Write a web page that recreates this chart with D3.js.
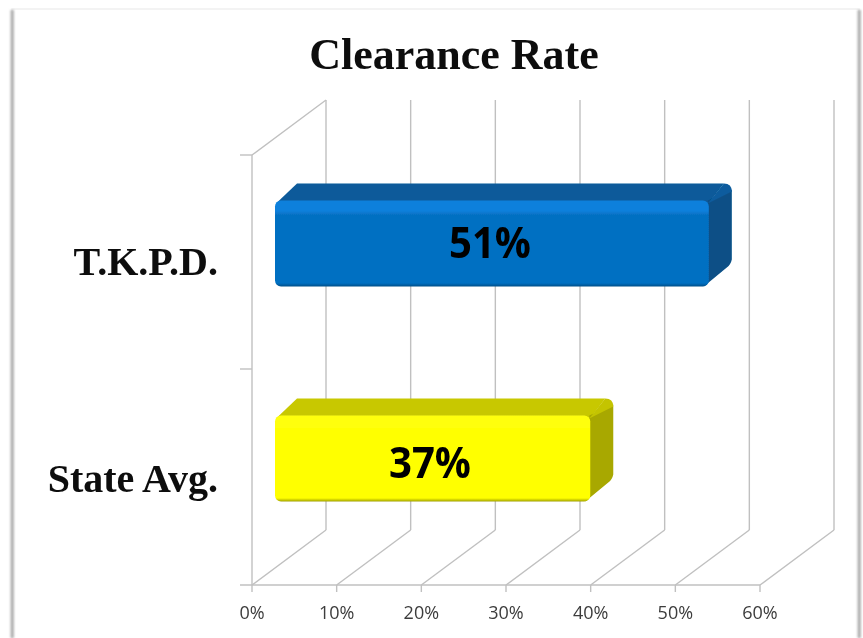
<!DOCTYPE html>
<html>
<head>
<meta charset="utf-8">
<script src="https://cdn.jsdelivr.net/npm/d3@7/dist/d3.min.js"></script>
<style>
html,body{margin:0;padding:0;background:#fff;}
svg{display:block;}
</style>
</head>
<body>
<svg id="chart" width="863" height="638"></svg>
<script>
const titleText = "Clearance Rate";
const categories = ["T.K.P.D.", "State Avg."];
const values = [51, 37];
const valueLabels = ["51%", "37%"];
const xTicks = [0, 10, 20, 30, 40, 50, 60];
const frontColors = ["#0670c2", "#ffff00"];
const lightColors = ["#0a80dc", "#ffff10"];
const darkEdgeColors = ["#054f88", "#a0a000"];
const topColors = ["#085a9a", "#c8c800"];
const sideColors = ["#084f86", "#a8a800"];
const cornerColors = ["#085c9e", "#c4c400"];

const svg = d3.select("#chart");
const defs = svg.append("defs");

const blur = defs.append("filter").attr("id", "soft").attr("x", "-5%").attr("y", "-5%").attr("width", "110%").attr("height", "110%");
blur.append("feGaussianBlur").attr("stdDeviation", 0.55);
const textBlur = defs.append("filter").attr("id", "softText").attr("x", "-5%").attr("y", "-5%").attr("width", "110%").attr("height", "110%");
textBlur.append("feGaussianBlur").attr("stdDeviation", 0.35);
const frameBlur = defs.append("filter").attr("id", "frameShadow").attr("x", "-200%").attr("y", "-5%").attr("width", "500%").attr("height", "110%");
frameBlur.append("feGaussianBlur").attr("stdDeviation", 1);

const floorY = 585, wallTop = 155;
const dx = 74, dy = -55;
const barDx = 24, barDy = -17;

const x = d3.scaleLinear().domain([0, 60]).range([252, 760]);
const y = d3.scaleBand().domain(categories).range([wallTop, floorY]);

// outer picture frame
const frame = svg.append("g");
frame.append("rect").attr("x", 12).attr("y", 9).attr("width", 847).attr("height", 640)
  .attr("fill", "none").attr("stroke", "#efefef").attr("stroke-width", 1.5);
frame.append("rect").attr("x", 10.5).attr("y", 10).attr("width", 3.5).attr("height", 628)
  .attr("fill", "#b4b4b4").attr("filter", "url(#frameShadow)");
frame.append("rect").attr("x", 857.5).attr("y", 10).attr("width", 3.5).attr("height", 628)
  .attr("fill", "#b4b4b4").attr("filter", "url(#frameShadow)");

// title
svg.append("text").attr("x", 454).attr("y", 69).attr("text-anchor", "middle")
  .attr("font-family", "'Liberation Serif', serif").attr("font-weight", "bold")
  .attr("font-size", 44).attr("fill", "#0c0c0c").attr("filter", "url(#softText)").text(titleText);

// 3D walls and floor
const grid = svg.append("g").attr("fill", "none").attr("stroke", "#c0c0c0").attr("stroke-width", 1.4);
grid.selectAll("line.back").data(xTicks).join("line").attr("class", "back")
  .attr("x1", d => x(d) + dx).attr("x2", d => x(d) + dx)
  .attr("y1", wallTop + dy).attr("y2", floorY + dy);
grid.selectAll("line.floor").data(xTicks).join("line").attr("class", "floor")
  .attr("x1", d => x(d)).attr("x2", d => x(d) + dx)
  .attr("y1", floorY).attr("y2", floorY + dy);
grid.append("line").attr("x1", x(0)).attr("x2", x(0)).attr("y1", wallTop).attr("y2", floorY);
grid.append("line").attr("x1", x(0)).attr("x2", x(0) + dx).attr("y1", wallTop).attr("y2", wallTop + dy);
grid.append("line").attr("x1", x(0) - 12).attr("x2", x(60)).attr("y1", floorY).attr("y2", floorY);
grid.selectAll("line.xt").data(xTicks).join("line").attr("class", "xt")
  .attr("x1", d => x(d)).attr("x2", d => x(d)).attr("y1", floorY).attr("y2", floorY + 7);
grid.selectAll("line.yt").data([wallTop, (wallTop + floorY) / 2 - 1]).join("line").attr("class", "yt")
  .attr("x1", x(0) - 12).attr("x2", x(0)).attr("y1", d => d).attr("y2", d => d);

// x tick labels
svg.append("g").attr("filter", "url(#softText)").selectAll("text").data(xTicks).join("text")
  .attr("x", d => x(d)).attr("y", 619).attr("text-anchor", "middle")
  .attr("font-family", "'Open Sans', sans-serif").attr("font-size", 18).attr("fill", "#3c3c3c")
  .text(d => d + "%");

// category labels
svg.append("g").attr("filter", "url(#softText)").selectAll("text").data(categories).join("text")
  .attr("x", 218).attr("y", (d, i) => y(d) + y.bandwidth() / 2 + 12 + i * 2).attr("text-anchor", "end")
  .attr("font-family", "'Liberation Serif', serif").attr("font-weight", "bold")
  .attr("font-size", 40).attr("fill", "#0c0c0c").text(d => d);

// front-face gradients
categories.forEach((c, i) => {
  const g = defs.append("linearGradient").attr("id", "front" + i)
    .attr("x1", 0).attr("x2", 0).attr("y1", 0).attr("y2", 1);
  [[0, lightColors[i]], [0.12, lightColors[i]], [0.17, frontColors[i]], [0.96, frontColors[i]], [1, darkEdgeColors[i]]]
    .forEach(s => g.append("stop").attr("offset", s[0]).attr("stop-color", s[1]));
});

// 3D bars
const barH = 86;
const bars = svg.append("g").attr("filter", "url(#soft)").selectAll("g").data(categories).join("g");
bars.each(function (c, i) {
  const g = d3.select(this);
  const left = x(0) + 23;
  const right = x(values[i]) + barDx;
  const top = y(c) + y.bandwidth() / 2 - 19 - barH / 2;
  const bottom = top + barH;
  // top face
  g.append("path").attr("fill", topColors[i])
    .attr("d", `M${left + 1},${top + 3} L${left + barDx - 2},${top + barDy} L${right + barDx - 8},${top + barDy} L${right},${top + 4} Z`);
  // side face
  g.append("path").attr("fill", sideColors[i])
    .attr("d", `M${right},${top} L${right + barDx},${top + barDy + 6} L${right + barDx},${bottom + barDy - 10} Q${right + barDx - 1},${bottom + barDy - 5} ${right + barDx - 5},${bottom + barDy - 2} L${right - 4},${bottom} Z`);
  // rounded back corner between top and side
  g.append("path").attr("fill", cornerColors[i])
    .attr("d", `M${right},${top + 3} L${right + barDx - 8},${top + barDy} Q${right + barDx},${top + barDy} ${right + barDx},${top + barDy + 8} Z`);
  // front face
  g.append("rect").attr("x", left).attr("y", top).attr("width", right - left + 1).attr("height", barH)
    .attr("rx", 6).attr("fill", `url(#front${i})`);
});

// value labels
svg.append("g").selectAll("text").data(categories).join("text")
  .attr("y", (d, i) => y(d) + y.bandwidth() / 2 - 5 + i * 5)
  .attr("x", (d, i) => i === 0 ? 490 : 430)
  .attr("text-anchor", "middle")
  .attr("font-family", "'Open Sans', sans-serif").attr("font-weight", "bold")
  .attr("font-size", 43).attr("textLength", 82).attr("lengthAdjust", "spacingAndGlyphs")
  .attr("fill", "#050505").attr("filter", "url(#softText)")
  .text((d, i) => valueLabels[i]);
</script>
</body>
</html>
